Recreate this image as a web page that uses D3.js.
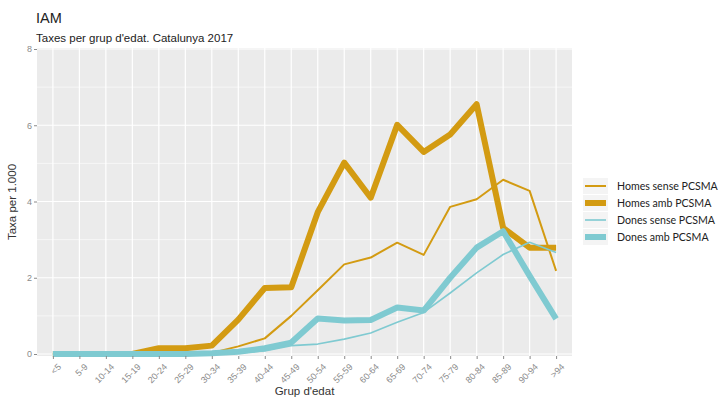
<!DOCTYPE html>
<html>
<head>
<meta charset="utf-8">
<script src="https://cdn.jsdelivr.net/npm/d3@7"></script>
<style>
  body { margin: 0; background: #fff; }
  svg { display: block; }
</style>
</head>
<body>
<svg id="chart" width="719" height="400"></svg>
<script>
// Age groups and rates per 1,000 inhabitants
const ageGroups = ["<5","5-9","10-14","15-19","20-24","25-29","30-34","35-39","40-44","45-49",
  "50-54","55-59","60-64","65-69","70-74","75-79","80-84","85-89","90-94",">94"];
const homesSense = [0,0,0,0,0.02,0.02,0.03,0.2,0.41,1.0,1.67,2.35,2.53,2.92,2.6,3.86,4.06,4.57,4.28,2.18];
const homesAmb   = [0,0,0,0,0.15,0.15,0.22,0.9,1.73,1.75,3.72,5.02,4.1,6.01,5.3,5.76,6.55,3.31,2.79,2.79];
const donesSense = [0,0,0,0,0,0,0.01,0.03,0.08,0.22,0.26,0.39,0.55,0.83,1.09,1.6,2.13,2.61,2.93,2.66];
const donesAmb   = [0,0,0,0,0,0,0.02,0.06,0.15,0.3,0.93,0.88,0.89,1.22,1.14,2.0,2.79,3.22,2.05,0.92];
const yTicks = [0, 2, 4, 6, 8];
const yMinor = [1, 3, 5, 7];

const series = [
  { name: "Homes sense PCSMA", values: homesSense, color: "#D39B12", width: 2 },
  { name: "Homes amb PCSMA",   values: homesAmb,   color: "#D39B12", width: 6 },
  { name: "Dones sense PCSMA", values: donesSense, color: "#7FCAD1", width: 1.6 },
  { name: "Dones amb PCSMA",   values: donesAmb,   color: "#7FCAD1", width: 6 }
];
const drawOrder = [1, 0, 3, 2];

const svg = d3.select("#chart");
const panel = { left: 37, right: 572, top: 48, bottom: 356 };

const x = d3.scalePoint().domain(ageGroups)
  .range([panel.left, panel.right]).padding(0.6);
const y = d3.scaleLinear().domain([0, 8]).range([354, 49]);

// Panel background and grid
svg.append("rect")
  .attr("x", panel.left).attr("y", panel.top)
  .attr("width", panel.right - panel.left).attr("height", panel.bottom - panel.top)
  .attr("fill", "#EBEBEB");

svg.append("g").selectAll("line").data(yMinor).join("line")
  .attr("x1", panel.left).attr("x2", panel.right)
  .attr("y1", d => y(d)).attr("y2", d => y(d))
  .attr("stroke", "#fff").attr("stroke-width", 0.6);
svg.append("g").selectAll("line").data(yTicks).join("line")
  .attr("x1", panel.left).attr("x2", panel.right)
  .attr("y1", d => y(d)).attr("y2", d => y(d))
  .attr("stroke", "#fff").attr("stroke-width", 1.2);
svg.append("g").selectAll("line").data(ageGroups).join("line")
  .attr("x1", d => x(d)).attr("x2", d => x(d))
  .attr("y1", panel.top).attr("y2", panel.bottom)
  .attr("stroke", "#fff").attr("stroke-width", 1.2);

// Lines
const line = d3.line().x((d, i) => x(ageGroups[i])).y(d => y(d));
drawOrder.forEach(k => {
  const s = series[k];
  svg.append("path")
    .datum(s.values)
    .attr("d", line)
    .attr("fill", "none")
    .attr("stroke", s.color)
    .attr("stroke-width", s.width)
    .attr("stroke-linejoin", "round")
    .attr("stroke-linecap", "butt");
});

// Axes
const tickColor = "#8a8a8a";
const yAxis = svg.append("g")
  .attr("transform", `translate(${panel.left},0)`)
  .call(d3.axisLeft(y).tickValues(yTicks).tickSize(3).tickPadding(2));
yAxis.select(".domain").remove();
yAxis.selectAll("line").attr("stroke", tickColor);
yAxis.selectAll("text").attr("fill", tickColor)
  .style("font-family", "Liberation Sans, Arial, sans-serif").style("font-size", "9px");

const xAxis = svg.append("g")
  .attr("transform", `translate(0,${panel.bottom})`)
  .call(d3.axisBottom(x).tickSize(3).tickPadding(2));
xAxis.select(".domain").remove();
xAxis.selectAll("line").attr("stroke", tickColor);
xAxis.selectAll("text")
  .attr("fill", tickColor)
  .style("font-family", "Liberation Sans, Arial, sans-serif").style("font-size", "9px")
  .attr("text-anchor", "end")
  .attr("dy", "0.3em")
  .attr("transform", "translate(3,6) rotate(-45)");

// Axis titles
svg.append("text")
  .attr("x", (panel.left + panel.right) / 2).attr("y", 395)
  .attr("text-anchor", "middle")
  .style("font-family", "Liberation Sans, Arial, sans-serif").style("font-size", "11.5px")
  .attr("fill", "#333").text("Grup d'edat");
svg.append("text")
  .attr("transform", `translate(16,${(panel.top + panel.bottom) / 2}) rotate(-90)`)
  .attr("text-anchor", "middle")
  .style("font-family", "Liberation Sans, Arial, sans-serif").style("font-size", "11.5px")
  .attr("fill", "#333").text("Taxa per 1.000");

// Titles
svg.append("text").attr("x", 36).attr("y", 23)
  .style("font-family", "Liberation Sans, Arial, sans-serif").style("font-size", "14.5px")
  .attr("fill", "#222").text("IAM");
svg.append("text").attr("x", 36).attr("y", 42)
  .style("font-family", "Liberation Sans, Arial, sans-serif").style("font-size", "11.5px")
  .attr("fill", "#222").text("Taxes per grup d'edat. Catalunya 2017");

// Legend
const legend = svg.append("g").attr("transform", "translate(583,178)");
series.forEach((s, i) => {
  const g = legend.append("g").attr("transform", `translate(0,${i * 17})`);
  g.append("rect").attr("width", 25).attr("height", 16).attr("fill", "#F4F4F4");
  g.append("line").attr("x1", 2).attr("x2", 23).attr("y1", 8).attr("y2", 8)
    .attr("stroke", s.color).attr("stroke-width", s.width);
  g.append("text").attr("x", 34).attr("y", 12)
    .style("font-family", "Lato, Carlito, sans-serif").style("font-size", "10.6px")
    .attr("fill", "#222").text(s.name);
});
</script>
</body>
</html>
